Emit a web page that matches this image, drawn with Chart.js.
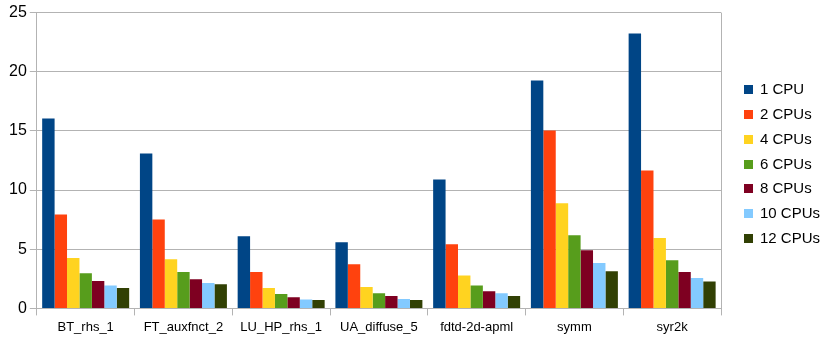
<!DOCTYPE html>
<html>
<head>
<meta charset="utf-8">
<script src="https://cdn.jsdelivr.net/npm/chart.js@4/dist/chart.umd.min.js"></script>
<style>
html,body{margin:0;padding:0;background:#fff;}
#wrap{width:824px;height:340px;position:relative;}
</style>
</head>
<body>
<div id="wrap"><canvas id="c" width="824" height="340"></canvas></div>
<script>
const categories = ["BT_rhs_1","FT_auxfnct_2","LU_HP_rhs_1","UA_diffuse_5","fdtd-2d-apml","symm","syr2k"];
const seriesNames = ["1 CPU","2 CPUs","4 CPUs","6 CPUs","8 CPUs","10 CPUs","12 CPUs"];
const cpu1  = [16.05, 13.09, 6.10, 5.60, 10.90, 19.26, 23.23];
const cpu2  = [7.94, 7.52, 3.07, 3.74, 5.43, 15.03, 11.66];
const cpu4  = [4.25, 4.16, 1.72, 1.80, 2.79, 8.89, 5.94];
const cpu6  = [2.98, 3.07, 1.21, 1.29, 1.94, 6.19, 4.08];
const cpu8  = [2.31, 2.47, 0.95, 1.04, 1.46, 4.92, 3.07];
const cpu10 = [1.94, 2.14, 0.76, 0.79, 1.29, 3.83, 2.56];
const cpu12 = [1.72, 2.05, 0.70, 0.70, 1.04, 3.15, 2.28];
const yTicks = [0, 5, 10, 15, 20, 25];
const colors = ["#004586","#ff420e","#ffd320","#579d1c","#7e0021","#83caff","#314004"];

const seriesValues = [cpu1, cpu2, cpu4, cpu6, cpu8, cpu10, cpu12];
const datasets = seriesNames.map((n, i) => ({
  label: n,
  data: seriesValues[i],
  backgroundColor: colors[i],
  borderWidth: 0,
  categoryPercentage: 0.89,
  barPercentage: 1.0
}));

const frameAndLegend = {
  id: 'frameAndLegend',
  afterDraw(chart) {
    const a = chart.chartArea, ctx = chart.ctx;
    ctx.save();
    ctx.strokeStyle = '#b3b3b3';
    ctx.lineWidth = 1;
    ctx.beginPath();
    ctx.moveTo(Math.round(a.right) + 0.5, a.top);
    ctx.lineTo(Math.round(a.right) + 0.5, a.bottom);
    ctx.stroke();
    // legend
    const x0 = a.right + 23, y0 = a.top + 77, step = 24.8;
    ctx.font = '15px "Liberation Sans"';
    ctx.textBaseline = 'middle';
    ctx.textAlign = 'left';
    chart.data.datasets.forEach((d, i) => {
      const y = y0 + i * step;
      ctx.fillStyle = d.backgroundColor;
      ctx.fillRect(x0, Math.round(y - 4.5), 9, 9);
      ctx.fillStyle = '#000';
      ctx.fillText(d.label, x0 + 16, y + 0.5);
    });
    ctx.restore();
  }
};

new Chart(document.getElementById('c'), {
  type: 'bar',
  data: { labels: categories, datasets },
  plugins: [frameAndLegend],
  options: {
    responsive: false,
    animation: false,
    layout: { padding: { left: 6, right: 103, top: 12, bottom: 1 } },
    plugins: {
      tooltip: { enabled: false },
      legend: { display: false }
    },
    scales: {
      x: {
        offset: true,
        grid: { offset: true, drawOnChartArea: false, drawTicks: true, tickLength: 7, color: '#b3b3b3' },
        border: { color: '#b3b3b3' },
        ticks: { color: '#000', font: { family: 'Liberation Sans', size: 13 }, padding: 4, maxRotation: 0, autoSkip: false }
      },
      y: {
        min: 0, max: 25,
        afterBuildTicks(s) { s.ticks = yTicks.map(v => ({ value: v })); },
        grid: { color: '#b3b3b3', tickLength: 7 },
        border: { color: '#b3b3b3' },
        ticks: { color: '#000', font: { family: 'Liberation Sans', size: 16 }, padding: 3 }
      }
    }
  }
});
</script>
</body>
</html>
